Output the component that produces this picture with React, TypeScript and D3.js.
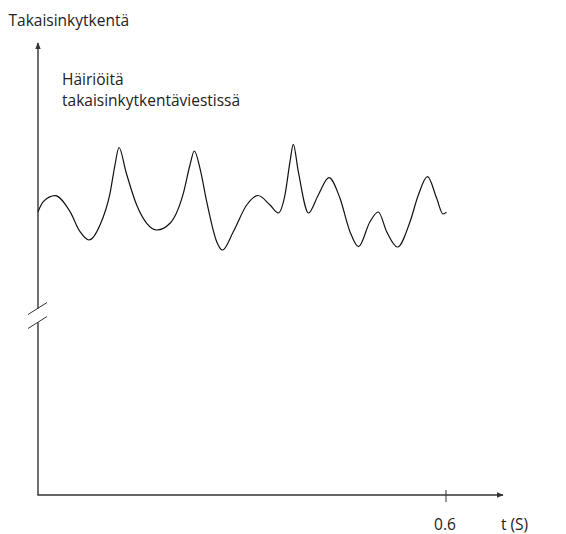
import React from "react";
import * as d3 from "d3";

const times = [0, 0.0078, 0.025, 0.0471, 0.0618, 0.075, 0.0912, 0.1059, 0.1132, 0.1191, 0.1294, 0.1451, 0.1599, 0.175, 0.1941, 0.2137, 0.2235, 0.2299, 0.2382, 0.2481, 0.2628, 0.2713, 0.2872, 0.3069, 0.3235, 0.3412, 0.3534, 0.3632, 0.3706, 0.3754, 0.3828, 0.3978, 0.4122, 0.4279, 0.4441, 0.4588, 0.4713, 0.4882, 0.5004, 0.5128, 0.5287, 0.5471, 0.5593, 0.5728, 0.5863, 0.5956, 0.6007];
const feedback = [6.296, 6.518, 6.651, 6.296, 5.851, 5.667, 6.0, 6.704, 7.333, 7.722, 7.178, 6.444, 6.038, 5.889, 6.038, 6.704, 7.333, 7.644, 7.26, 6.518, 5.629, 5.444, 5.851, 6.444, 6.656, 6.444, 6.267, 6.667, 7.407, 7.793, 7.185, 6.267, 6.667, 7.051, 6.593, 5.851, 5.518, 6.073, 6.289, 5.851, 5.511, 6.073, 6.667, 7.073, 6.593, 6.244, 6.282];
const xTicks = [0.6];
const yTitle = "Takaisinkytkentä";
const xTitle = "t (S)";
const noteLines = ["Häiriöitä", "takaisinkytkentäviestissä"];

export default function App() {
  const W = 566, H = 534;
  const x = d3.scaleLinear().domain([0, 0.6]).range([38, 446]);
  const y = d3.scaleLinear().domain([0, 10]).range([495, 45]);
  const line = d3
    .line<number>()
    .x((_, i) => x(times[i]))
    .y((d) => y(d))
    .curve(d3.curveMonotoneX);
  const axisColor = "#333";
  const font = "'Open Sans', sans-serif";
  const fs = 15.5;
  const x0 = x(0);
  const yBase = y(0);
  const breakTop = 308.5, breakBot = 322.5;
  return (
    <svg
      width={W}
      height={H}
      style={{ position: "absolute", left: 0, top: 0, background: "#fff" }}
      fontFamily={font}
    >
      <defs>
        <marker id="arr" viewBox="0 0 10 10" refX="9" refY="5" markerWidth="5" markerHeight="5" orient="auto">
          <path d="M0,1 L10,5 L0,9 Z" fill={axisColor} />
        </marker>
      </defs>
      {/* y axis (with break) */}
      <line x1={x0} y1={breakTop} x2={x0} y2={43} stroke={axisColor} strokeWidth={1.4} markerEnd="url(#arr)" />
      <line x1={x0} y1={yBase} x2={x0} y2={breakBot} stroke={axisColor} strokeWidth={1.4} />
      <line x1={x0 - 10} y1={breakTop + 6} x2={x0 + 9} y2={breakTop - 6} stroke={axisColor} strokeWidth={1} />
      <line x1={x0 - 10} y1={breakBot + 6} x2={x0 + 9} y2={breakBot - 6} stroke={axisColor} strokeWidth={1} />
      {/* x axis */}
      <line x1={x0 - 0.7} y1={yBase} x2={503} y2={yBase} stroke={axisColor} strokeWidth={1.4} markerEnd="url(#arr)" />
      {xTicks.map((t) => (
        <g key={t}>
          <line x1={x(t)} x2={x(t)} y1={yBase - 5} y2={yBase + 7} stroke={axisColor} strokeWidth={1} />
          <text x={x(t) - 1} y={530} textAnchor="middle" fontSize={fs} fill="#222">
            {t}
          </text>
        </g>
      ))}
      <text x={501} y={530} fontSize={fs} fill="#222">{xTitle}</text>
      <text x={8.5} y={26} fontSize={fs} fill="#222">{yTitle}</text>
      {noteLines.map((s, i) => (
        <text key={i} x={62} y={85 + i * 21} fontSize={fs} fill="#222">{s}</text>
      ))}
      <path d={line(feedback) || ""} fill="none" stroke="#111" strokeWidth={1.2} />
    </svg>
  );
}
